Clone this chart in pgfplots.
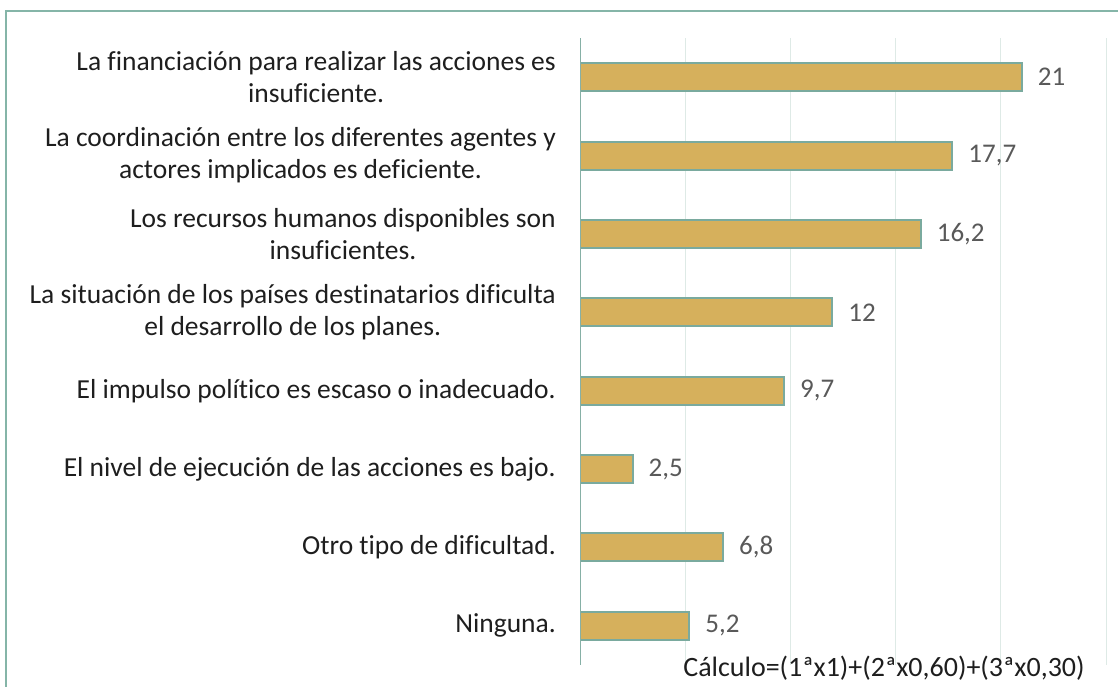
\documentclass[border=0pt]{standalone}
\usepackage{pgfplots}
\pgfplotsset{compat=1.18}
\usepackage{fontspec}
\setmainfont[Ligatures=NoCommon]{Carlito}
\definecolor{barfill}{RGB}{214,176,92}
\definecolor{baredge}{RGB}{122,170,158}
\definecolor{axiscol}{RGB}{134,176,166}
\definecolor{gridcol}{RGB}{222,234,230}
\definecolor{bordercol}{RGB}{133,181,168}
\definecolor{txt}{RGB}{30,30,30}
\definecolor{valtxt}{RGB}{89,89,89}
\begin{document}
\begin{tikzpicture}[x=1pt,y=1pt]
\useasboundingbox (0,0) rectangle (1118,686);
\draw[bordercol, line width=2pt] (6,675) rectangle (1140,-20);
\begin{axis}[
  at={(580pt,21pt)}, anchor=south west,
  scale only axis, width=526pt, height=627pt,
  xbar, bar width=28pt,
  xmin=0, xmax=25,
  ymin=-0.5, ymax=7.5, y dir=reverse,
  xtick={0,5,...,25}, xticklabels={},
  xmajorgrids, grid style={gridcol, line width=1pt},
  major tick length=0pt,
  axis line style={draw=none},
  ytick={0,...,7},
  yticklabels={
    {La financiación para realizar las acciones es\\insuficiente.},
    {La coordinación entre los diferentes agentes y\\actores implicados es deficiente.},
    {Los recursos humanos disponibles son\\insuficientes.},
    {La situación de los países destinatarios dificulta\\el desarrollo de los planes.},
    {El impulso político es escaso o inadecuado.},
    {El nivel de ejecución de las acciones es bajo.},
    {Otro tipo de dificultad.},
    {Ninguna.}},
  yticklabel style={align=center, font=\fontsize{27.5}{32}\selectfont, text=txt, inner sep=0pt, xshift=-24pt},
  nodes near coords,
  point meta=explicit symbolic,
  nodes near coords style={font=\fontsize{27}{30}\selectfont, text=valtxt, inner sep=0pt, anchor=west, xshift=15pt},
]
\addplot[fill=barfill, draw=baredge, line width=2pt] coordinates {
  (21,0) [21]
  (17.7,1) [17,7]
  (16.2,2) [16,2]
  (12,3) [12]
  (9.7,4) [9,7]
  (2.5,5) [2,5]
  (6.8,6) [6,8]
  (5.2,7) [5,2]
};
\draw[axiscol, line width=2pt] (rel axis cs:0,0) -- (rel axis cs:0,1);
\end{axis}
\node[font=\fontsize{28}{30}\selectfont, text=txt, inner sep=0pt] at (884,18) {Cálculo=(1ªx1)+(2ªx0,60)+(3ªx0,30)};
\end{tikzpicture}
\end{document}
